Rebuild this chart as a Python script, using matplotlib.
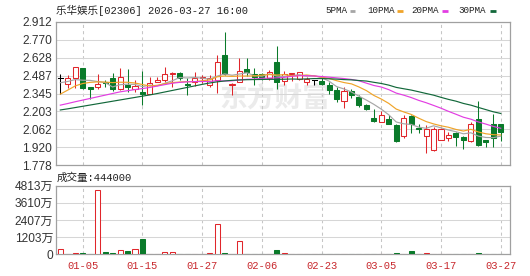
import matplotlib
matplotlib.use('Agg')
import matplotlib.pyplot as plt
import numpy as np
import pandas as pd
from matplotlib.patches import Rectangle
from matplotlib.lines import Line2D

# ---------------- data ----------------
dates = ['12-30', '12-31', '01-02', '01-05', '01-06', '01-07', '01-08', '01-09',
         '01-12', '01-13', '01-14', '01-15', '01-16', '01-19', '01-20', '01-21',
         '01-22', '01-23', '01-26', '01-27', '01-28', '01-29', '01-30', '02-02',
         '02-03', '02-04', '02-05', '02-06', '02-09', '02-10', '02-11', '02-12',
         '02-13', '02-16', '02-20', '02-23', '02-24', '02-25', '02-26', '02-27',
         '03-02', '03-03', '03-04', '03-05', '03-06', '03-09', '03-10', '03-11',
         '03-12', '03-13', '03-16', '03-17', '03-18', '03-19', '03-20', '03-23',
         '03-24', '03-25', '03-26', '03-27']

opens = [2.464, 2.417, 2.470, 2.543, 2.398, 2.398, 2.437, 2.464, 2.379, 2.413,
         2.379, 2.358, 2.345, 2.437, 2.455, 2.498, 2.504, 2.419, 2.437, 2.464,
         2.411, 2.451, 2.648, 2.411, 2.437, 2.538, 2.498, 2.496, 2.470, 2.593,
         2.443, 2.498, 2.459, 2.432, 2.451, 2.443, 2.411, 2.372, 2.287, 2.364,
         2.314, 2.253, 2.148, 2.121, 2.140, 2.100, 2.010, 2.166, 2.076, 2.010,
         1.897, 1.981, 1.994, 2.034, 2.002, 1.968, 2.142, 1.976, 2.103, 2.103]
highs = [2.496, 2.490, 2.551, 2.548, 2.400, 2.498, 2.455, 2.504, 2.543, 2.535,
         2.451, 2.524, 2.474, 2.474, 2.553, 2.516, 2.516, 2.464, 2.516, 2.490,
         2.490, 2.648, 2.827, 2.425, 2.622, 2.622, 2.546, 2.504, 2.534, 2.720,
         2.522, 2.508, 2.516, 2.477, 2.451, 2.467, 2.437, 2.393, 2.393, 2.380,
         2.332, 2.261, 2.219, 2.205, 2.179, 2.108, 2.179, 2.179, 2.102, 2.100,
         2.081, 2.076, 2.042, 2.042, 2.007, 2.121, 2.287, 1.981, 2.182, 2.103]
lows = [2.345, 2.385, 2.387, 2.380, 2.298, 2.377, 2.398, 2.366, 2.375, 2.358,
        2.358, 2.255, 2.345, 2.437, 2.437, 2.398, 2.451, 2.332, 2.403, 2.425,
        2.398, 2.348, 2.490, 2.337, 2.435, 2.486, 2.415, 2.451, 2.451, 2.383,
        2.411, 2.445, 2.451, 2.411, 2.411, 2.411, 2.345, 2.279, 2.227, 2.306,
        2.235, 2.213, 2.121, 2.121, 2.108, 1.962, 1.997, 2.034, 2.034, 1.875,
        1.891, 1.976, 1.970, 1.928, 1.910, 1.962, 1.934, 1.923, 1.923, 1.970]
closes = [2.464, 2.464, 2.551, 2.387, 2.377, 2.417, 2.425, 2.377, 2.477, 2.398,
          2.407, 2.340, 2.431, 2.451, 2.498, 2.508, 2.469, 2.411, 2.470, 2.474,
          2.464, 2.591, 2.498, 2.419, 2.522, 2.514, 2.474, 2.477, 2.514, 2.435,
          2.496, 2.508, 2.512, 2.459, 2.451, 2.419, 2.372, 2.298, 2.364, 2.332,
          2.253, 2.219, 2.129, 2.174, 2.108, 1.970, 2.148, 2.103, 2.068, 2.063,
          2.068, 2.068, 2.015, 2.002, 1.981, 2.108, 1.936, 1.962, 1.994, 2.042]
# volume in 万股
volumes = [354, 50, 95, 95, 30, 4482, 140, 95, 283, 236,
           354, 1085, 30, 30, 140, 140, 30, 30, 30, 30,
           118, 2123, 95, 30, 944, 30, 30, 30, 30, 306,
           95, 35, 30, 35, 30, 35, 40, 35, 30, 35,
           35, 40, 30, 35, 30, 118, 40, 236, 40, 95,
           35, 30, 35, 35, 30, 35, 95, 35, 40, 44.4]

# moving-average values before a full window is available
ma5_head = [2.430, 2.440, 2.455, 2.450]
ma10_head = [2.340, 2.372, 2.405, 2.424, 2.433, 2.437, 2.435, 2.431, 2.434]
ma20_head = [2.253, 2.266, 2.280, 2.293, 2.306, 2.319, 2.332, 2.345, 2.358,
             2.367, 2.376, 2.384, 2.393, 2.404, 2.415, 2.426, 2.433, 2.437, 2.439]
ma30_head = [2.215, 2.224, 2.234, 2.244, 2.254, 2.264, 2.274, 2.284, 2.294,
             2.304, 2.314, 2.324, 2.334, 2.345, 2.357, 2.369, 2.381, 2.393,
             2.405, 2.417, 2.428, 2.437, 2.444, 2.449, 2.452, 2.454, 2.455,
             2.456, 2.457]

xtick_labels = ['01-05', '01-15', '01-27', '02-06', '02-23', '03-05', '03-17', '03-27']
price_min, price_max = 1.778, 2.912
price_tick_labels = ['1.778', '1.920', '2.062', '2.203', '2.345', '2.487',
                     '2.628', '2.770', '2.912']
vol_max = 4813
vol_tick_labels = ['0', '1203万', '2407万', '3610万', '4813万']
title = '乐华娱乐[02306] 2026-03-27 16:00'
vol_title = '成交量:444000'
ma_names = ['5PMA', '10PMA', '20PMA', '30PMA']

# ---------------- styles ----------------
UP = '#e0262b'
DOWN = '#0a7a2a'
FLAT = '#000000'
MA_COLORS = ['#a6a6a6', '#f0a429', '#e23de2', '#12683a']
BORDER = '#a0a0a0'
MONO = ['Liberation Mono', 'Noto Sans CJK SC']
SANS = ['Liberation Sans', 'Noto Sans CJK SC']
W, H = 530, 276

c = pd.Series(closes)


def moving_avg(n, head):
    m = c.rolling(n).mean().to_numpy()
    m[:len(head)] = head
    return m


mas = [moving_avg(5, ma5_head), moving_avg(10, ma10_head),
       moving_avg(20, ma20_head), moving_avg(30, ma30_head)]

fig = plt.figure(figsize=(W / 100, H / 100), dpi=100)
fig.patch.set_facecolor('white')

ax = fig.add_axes([56 / W, 1 - 165.3 / H, 453.7 / W, 143.6 / H])
axv = fig.add_axes([56 / W, 1 - 254.3 / H, 453.7 / W, 68.6 / H])

n = len(closes)
x = np.arange(n)
tick_idx = [dates.index(d) for d in xtick_labels]
xlim = (-0.58, 60.2)
bw = 0.68
lw_px = 0.75

for a in (ax, axv):
    a.set_xlim(*xlim)
    a.set_xticks(tick_idx)
    for s in a.spines.values():
        s.set_color(BORDER)
        s.set_linewidth(0.9)
    a.grid(axis='x', color='#c6c6c6', linestyle=(0, (3, 3)), linewidth=0.75)
    a.grid(axis='y', color='#d6d6d6', linestyle='-', linewidth=0.75)
    a.set_axisbelow(True)
    a.tick_params(axis='both', length=0)

# price axes
ax.set_ylim(price_min, price_max)
ax.set_yticks(np.linspace(price_min, price_max, len(price_tick_labels)))
ax.set_yticklabels(price_tick_labels)
ax.tick_params(axis='y', pad=3, labelsize=8.6, colors='#333333')
for t in ax.get_yticklabels():
    t.set_fontfamily(SANS)
ax.tick_params(axis='x', labelbottom=False)

# watermark
ax.text(28.8, 2.305, '东方财富', fontsize=20, fontweight='bold', color='#ebebeb',
        family=['Noto Sans CJK SC'], ha='center', va='center', zorder=0.5,
        style='italic')

for i in range(n):
    o, h, l, cl = opens[i], highs[i], lows[i], closes[i]
    if cl > o:
        col = UP
    elif cl < o:
        col = DOWN
    else:
        col = FLAT
    lo_b, hi_b = min(o, cl), max(o, cl)
    ax.plot([i, i], [l, lo_b], color=col, lw=lw_px, zorder=3, solid_capstyle='butt')
    ax.plot([i, i], [hi_b, h], color=col, lw=lw_px, zorder=3, solid_capstyle='butt')
    if cl == o:
        ax.plot([i - bw / 2, i + bw / 2], [o, o], color=col, lw=lw_px, zorder=3)
    else:
        face = 'white' if cl > o else col
        ax.add_patch(Rectangle((i - bw / 2, lo_b), bw, hi_b - lo_b,
                               facecolor=face, edgecolor=col, lw=lw_px, zorder=4))

for m, colr in zip(mas, MA_COLORS):
    ax.plot(x, m, color=colr, lw=0.85, zorder=5)

# volume axes
axv.set_ylim(0, vol_max)
axv.set_yticks(np.linspace(0, vol_max, len(vol_tick_labels)))
axv.set_yticklabels(vol_tick_labels)
axv.tick_params(axis='y', pad=2, labelsize=8.6, colors='#333333')
for t in axv.get_yticklabels():
    t.set_fontfamily(SANS)
axv.set_xticklabels(xtick_labels)
axv.tick_params(axis='x', pad=5, labelsize=7.6, colors='#c8282d')
for t in axv.get_xticklabels():
    t.set_fontfamily(MONO)

for i in range(n):
    o, cl = opens[i], closes[i]
    col = UP if cl >= o else DOWN
    face = 'white' if cl >= o else col
    axv.add_patch(Rectangle((i - bw / 2, 0), bw, volumes[i],
                            facecolor=face, edgecolor=col, lw=lw_px, zorder=4))

# titles / legend
fig.text(56 / W, 1 - 10.5 / H, title, family=MONO, fontsize=7.6,
         color='#222222', ha='left', va='center')
fig.text(57 / W, 1 - 177.3 / H, vol_title, family=MONO, fontsize=7.6,
         color='#222222', ha='left', va='center')

leg_text_x = [325, 367, 411, 458]
leg_sw_x = [349.5, 397, 442, 490]
for name, tx, sx, colr in zip(ma_names, leg_text_x, leg_sw_x, MA_COLORS):
    fig.text(tx / W, 1 - 10.5 / H, name, family=MONO, fontsize=6.7,
             color='#222222', ha='left', va='center')
    fig.add_artist(Line2D([sx / W, (sx + 5.5) / W], [1 - 11 / H, 1 - 11 / H],
                          color=colr, lw=2.0, solid_capstyle='butt'))

fig.savefig('out.png', dpi=100)
